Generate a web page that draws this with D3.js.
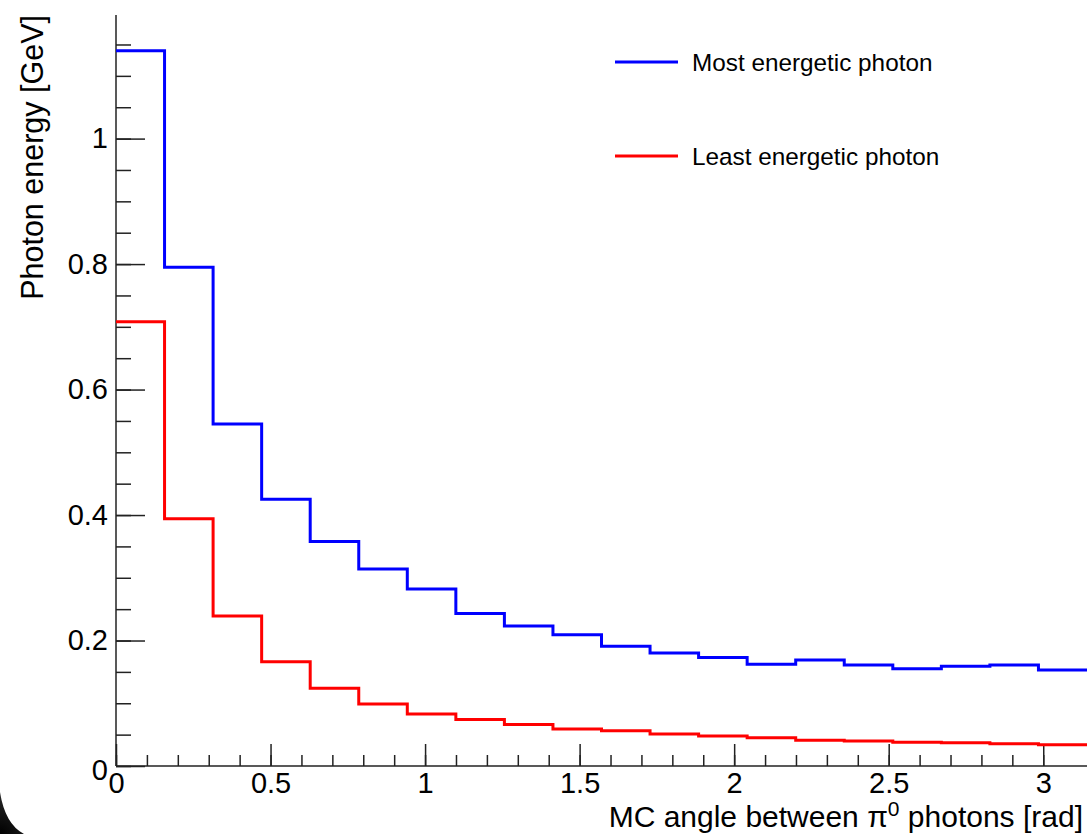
<!DOCTYPE html>
<meta charset="utf-8">
<style>
body { margin: 0; background: #fff; }
svg text { font-family: 'Liberation Sans', Arial, Helvetica, sans-serif; fill: #000; }
.axis path, .axis line { stroke: #222; stroke-width: 1.5px; }
.hist { fill: none; stroke-width: 3px; }
</style>
<svg width="1091" height="834"></svg>
<script src="https://d3js.org/d3.v7.min.js"></script>
<script>

// histogram: 20 bins from 0 to pi
var nBins = 20, xMin = 0, xMax = Math.PI, yMax = 1.197;

var mostEnergetic = [1.140, 0.795, 0.545, 0.425, 0.358, 0.314, 0.282, 0.243, 0.223, 0.209,
                     0.191, 0.180, 0.173, 0.162, 0.169, 0.161, 0.155, 0.159, 0.161, 0.153];
var leastEnergetic = [0.708, 0.394, 0.239, 0.166, 0.124, 0.099, 0.083, 0.074, 0.066, 0.059,
                      0.056, 0.051, 0.048, 0.045, 0.041, 0.040, 0.038, 0.037, 0.0355, 0.034];

var seriesNames = ["Most energetic photon", "Least energetic photon"];
var seriesColors = ["#0000ff", "#ff0000"];

var xMajor = [0, 0.5, 1, 1.5, 2, 2.5, 3];
var xMinor = d3.range(0, 31).map(function(i) { return i / 10; });
var yMajor = [0, 0.2, 0.4, 0.6, 0.8, 1];
var yMinor = d3.range(0, 24).map(function(i) { return i * 0.05; });

var svg = d3.select("svg");

var x = d3.scaleLinear().domain([xMin, xMax]).range([116, 1087]),
    y = d3.scaleLinear().domain([0, yMax]).range([766, 15]);

// corner shadow from the screenshot
var defs = svg.append("defs");
var grad = defs.append("radialGradient").attr("id", "corner")
    .attr("gradientUnits", "userSpaceOnUse").attr("cx", 0).attr("cy", 834).attr("r", 50);
grad.append("stop").attr("offset", "0").attr("stop-color", "#000");
grad.append("stop").attr("offset", "0.7").attr("stop-color", "#222");
grad.append("stop").attr("offset", "1").attr("stop-color", "#666");
svg.append("path")
    .attr("d", "M0,792 Q5,824 24,834 L0,834 Z")
    .attr("fill", "url(#corner)");

var g = svg.append("g");

// minor ticks
g.append("g").attr("class", "axis")
    .attr("transform", "translate(0," + y(0) + ")")
    .call(d3.axisBottom(x).tickValues(xMinor).tickSize(-11).tickFormat(""))
    .call(function(s) { s.select(".domain").remove(); });
g.append("g").attr("class", "axis")
    .attr("transform", "translate(" + x(0) + ",0)")
    .call(d3.axisLeft(y).tickValues(yMinor).tickSize(-15).tickFormat(""))
    .call(function(s) { s.select(".domain").remove(); });

// major ticks + labels
var xAxis = g.append("g").attr("class", "axis")
    .attr("transform", "translate(0," + y(0) + ")")
    .call(d3.axisBottom(x).tickValues(xMajor).tickSizeInner(-22).tickSizeOuter(0).tickPadding(0)
      .tickFormat(d3.format("")));
xAxis.selectAll("text").attr("font-size", 29).attr("dy", "0.95em").attr("y", -1);
xAxis.select(".domain").attr("d", "M" + x(xMin) + ",0H" + x(xMax));

var yAxis = g.append("g").attr("class", "axis")
    .attr("transform", "translate(" + x(0) + ",0)")
    .call(d3.axisLeft(y).tickValues(yMajor).tickSizeInner(-29).tickSizeOuter(0).tickPadding(8)
      .tickFormat(d3.format("")));
yAxis.selectAll("text").attr("font-size", 29).attr("x", -8);
yAxis.select(".domain").attr("d", "M0," + y(0) + "V" + y(yMax));
yAxis.selectAll(".tick").filter(function(d) { return d === 0; }).select("text").attr("dy", "0.45em");
d3.selectAll(".axis text").attr("fill", "#000").attr("font-family", null);

// histograms
var line = d3.line().curve(d3.curveStepAfter).x(function(d) { return x(d[0]); }).y(function(d) { return y(d[1]); });
var binWidth = (xMax - xMin) / nBins;

[mostEnergetic, leastEnergetic].forEach(function(vals, k) {
  var pts = vals.map(function(v, i) { return [xMin + i * binWidth, v]; });
  pts.push([xMax, vals[vals.length - 1]]);
  g.append("path").attr("class", "hist")
      .attr("stroke", seriesColors[k])
      .attr("d", line(pts));
});

// legend
var legend = svg.append("g");
seriesNames.forEach(function(name, k) {
  var ly = 62 + k * 94;
  legend.append("line").attr("x1", 615).attr("x2", 678).attr("y1", ly).attr("y2", ly)
      .attr("stroke", seriesColors[k]).attr("stroke-width", 3);
  legend.append("text").attr("x", 692).attr("y", ly).attr("dy", "0.35em")
      .attr("font-size", 24.3).text(name);
});

// axis titles
svg.append("text")
    .attr("text-anchor", "end")
    .attr("x", 1083).attr("y", 827)
    .attr("font-size", 30)
    .html("MC angle between &#960;<tspan dy=\"-11\" font-size=\"21\">0</tspan><tspan dy=\"11\"> photons [rad]</tspan>");

svg.append("text")
    .attr("text-anchor", "end")
    .attr("transform", "translate(43,15) rotate(-90)")
    .attr("font-size", 30.5)
    .text("Photon energy [GeV]");

</script>
